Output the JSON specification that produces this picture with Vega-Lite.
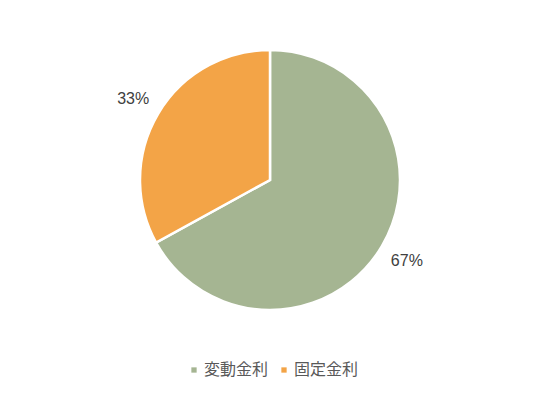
{
  "$schema": "https://vega.github.io/schema/vega-lite/v6.json",
  "autosize": "none",
  "width": 540,
  "height": 360,
  "padding": {"top": 0, "left": 0, "right": 0, "bottom": 40},
  "background": "white",
  "data": {
    "values": [
      {"type": "変動金利", "share": 67, "label": "67%", "order": 1},
      {"type": "固定金利", "share": 33, "label": "33%", "order": 2}
    ]
  },
  "encoding": {
    "theta": {"field": "share", "type": "quantitative", "stack": true},
    "order": {"field": "order", "type": "quantitative"},
    "color": {
      "field": "type",
      "type": "nominal",
      "sort": ["変動金利", "固定金利"],
      "scale": {"domain": ["変動金利", "固定金利"], "range": ["#A5B592", "#F3A447"]},
      "legend": {
        "title": null,
        "orient": "none",
        "direction": "horizontal",
        "legendX": 186,
        "legendY": 362,
        "symbolType": "square",
        "symbolSize": 28,
        "symbolStrokeWidth": 0,
        "labelFont": "Noto Sans CJK JP",
        "labelFontSize": 16,
        "labelColor": "#595959",
        "columnPadding": 7,
        "labelOffset": 2
      }
    }
  },
  "layer": [
    {
      "mark": {"type": "arc", "outerRadius": 130, "stroke": "white", "strokeWidth": 2.5}
    },
    {
      "mark": {"type": "text", "radius": 159, "font": "Liberation Sans", "fontSize": 16, "fill": "#404040"},
      "encoding": {"text": {"field": "label"}, "color": {"value": "#404040"}}
    }
  ],
  "config": {"view": {"stroke": null}}
}
